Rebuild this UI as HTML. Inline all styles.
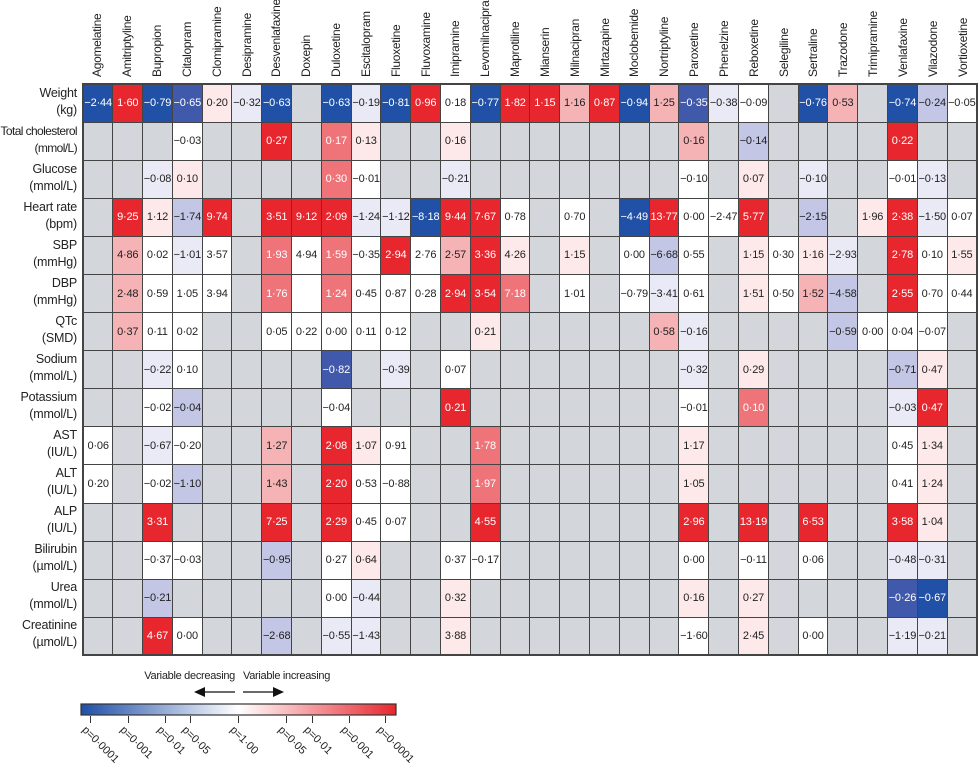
<!DOCTYPE html>
<html><head><meta charset="utf-8"><style>
body{margin:0;width:978px;height:759px;background:#fff;font-family:"Liberation Sans",sans-serif;position:relative;overflow:hidden;color:#222}
table{position:absolute;left:82px;top:83px;width:896px;border-collapse:collapse;table-layout:fixed;border:2px solid #444}
tr{height:38.1px}
td{border:1.5px solid #444;background:#d3d6da;text-align:center;font-size:11px;padding:0;white-space:nowrap;overflow:hidden;letter-spacing:-0.2px}
.w{background:#fff}.B{background:#2151a6;color:#fff}.m{background:#4059ab;color:#fff}.l{background:#c4c6e5}.v{background:#e9eaf6}
.p{background:#fde9e9}.q{background:#f6b3b5}.s{background:#ef7479;color:#fff}.R{background:#e8262e;color:#fff}
.lab{position:absolute;right:901px;text-align:right;font-size:12.5px;line-height:17px;width:90px;letter-spacing:-0.2px}
.col{position:absolute;top:77px;transform-origin:0 0;transform:rotate(-90deg);font-size:12px;letter-spacing:-0.3px;white-space:nowrap}
.tk{position:absolute;top:716px;width:1px;height:7px;background:#333}
.tl{position:absolute;top:724px;font-size:11px;transform-origin:0 0;transform:rotate(45deg);white-space:nowrap}
</style></head><body>
<div class="col" style="left:90px">Agomelatine</div><div class="col" style="left:120px">Amitriptyline</div><div class="col" style="left:150px">Bupropion</div><div class="col" style="left:180px">Citalopram</div><div class="col" style="left:210px">Clomipramine</div><div class="col" style="left:240px">Desipramine</div><div class="col" style="left:269px">Desvenlafaxine</div><div class="col" style="left:299px">Doxepin</div><div class="col" style="left:329px">Duloxetine</div><div class="col" style="left:359px">Escitalopram</div><div class="col" style="left:389px">Fluoxetine</div><div class="col" style="left:419px">Fluvoxamine</div><div class="col" style="left:448px">Imipramine</div><div class="col" style="left:478px">Levomilnacipran</div><div class="col" style="left:508px">Maprotiline</div><div class="col" style="left:538px">Mianserin</div><div class="col" style="left:568px">Milnacipran</div><div class="col" style="left:598px">Mirtazapine</div><div class="col" style="left:627px">Moclobemide</div><div class="col" style="left:657px">Nortriptyline</div><div class="col" style="left:687px">Paroxetine</div><div class="col" style="left:717px">Phenelzine</div><div class="col" style="left:747px">Reboxetine</div><div class="col" style="left:777px">Selegiline</div><div class="col" style="left:806px">Sertraline</div><div class="col" style="left:836px">Trazodone</div><div class="col" style="left:866px">Trimipramine</div><div class="col" style="left:896px">Venlafaxine</div><div class="col" style="left:926px">Vilazodone</div><div class="col" style="left:956px">Vortioxetine</div>

<div class="lab" style="top:85px">Weight<br>(kg)</div>
<div class="lab" style="top:123px;width:78px;letter-spacing:-0.6px;font-size:12px">Total cholesterol<br>(mmol/L)</div>
<div class="lab" style="top:161px">Glucose<br>(mmol/L)</div>
<div class="lab" style="top:199px">Heart rate<br>(bpm)</div>
<div class="lab" style="top:237px">SBP<br>(mmHg)</div>
<div class="lab" style="top:275px">DBP<br>(mmHg)</div>
<div class="lab" style="top:313px">QTc<br>(SMD)</div>
<div class="lab" style="top:351px">Sodium<br>(mmol/L)</div>
<div class="lab" style="top:389px">Potassium<br>(mmol/L)</div>
<div class="lab" style="top:427px">AST<br>(IU/L)</div>
<div class="lab" style="top:465px">ALT<br>(IU/L)</div>
<div class="lab" style="top:503px">ALP<br>(IU/L)</div>
<div class="lab" style="top:541px">Bilirubin<br>(µmol/L)</div>
<div class="lab" style="top:579px">Urea<br>(mmol/L)</div>
<div class="lab" style="top:617px">Creatinine<br>(µmol/L)</div>

<table>
<tr><td class=B>−2·44</td><td class=R>1·60</td><td class=B>−0·79</td><td class=m>−0·65</td><td class=p>0·20</td><td class=v>−0·32</td><td class=B>−0·63</td><td></td><td class=B>−0·63</td><td class=v>−0·19</td><td class=B>−0·81</td><td class=R>0·96</td><td class=w>0·18</td><td class=B>−0·77</td><td class=R>1·82</td><td class=R>1·15</td><td class=q>1·16</td><td class=R>0·87</td><td class=B>−0·94</td><td class=q>1·25</td><td class=m>−0·35</td><td class=v>−0·38</td><td class=w>−0·09</td><td></td><td class=B>−0·76</td><td class=q>0·53</td><td></td><td class=B>−0·74</td><td class=l>−0·24</td><td class=w>−0·05</td></tr>
<tr><td></td><td></td><td></td><td class=w>−0·03</td><td></td><td></td><td class=R>0·27</td><td></td><td class=s>0·17</td><td class=p>0·13</td><td></td><td></td><td class=p>0·16</td><td></td><td></td><td></td><td></td><td></td><td></td><td></td><td class=q>0·16</td><td></td><td class=l>−0·14</td><td></td><td></td><td></td><td></td><td class=R>0·22</td><td></td><td></td></tr>
<tr><td></td><td></td><td class=v>−0·08</td><td class=p>0·10</td><td></td><td></td><td></td><td></td><td class=s>0·30</td><td class=w>−0·01</td><td></td><td></td><td class=v>−0·21</td><td></td><td></td><td></td><td></td><td></td><td></td><td></td><td class=w>−0·10</td><td></td><td class=p>0·07</td><td></td><td class=v>−0·10</td><td></td><td></td><td class=w>−0·01</td><td class=v>−0·13</td><td></td></tr>
<tr><td></td><td class=R>9·25</td><td class=p>1·12</td><td class=l>−1·74</td><td class=R>9·74</td><td></td><td class=R>3·51</td><td class=R>9·12</td><td class=R>2·09</td><td class=v>−1·24</td><td class=v>−1·12</td><td class=B>−8·18</td><td class=R>9·44</td><td class=R>7·67</td><td class=w>0·78</td><td></td><td class=w>0·70</td><td></td><td class=B>−4·49</td><td class=R>13·77</td><td class=w>0·00</td><td class=w>−2·47</td><td class=R>5·77</td><td></td><td class=l>−2·15</td><td></td><td class=p>1·96</td><td class=R>2·38</td><td class=v>−1·50</td><td class=w>0·07</td></tr>
<tr><td></td><td class=q>4·86</td><td class=w>0·02</td><td class=v>−1·01</td><td class=w>3·57</td><td></td><td class=s>1·93</td><td class=w>4·94</td><td class=s>1·59</td><td class=w>−0·35</td><td class=R>2·94</td><td class=w>2·76</td><td class=q>2·57</td><td class=R>3·36</td><td class=p>4·26</td><td></td><td class=p>1·15</td><td></td><td class=w>0·00</td><td class=l>−6·68</td><td class=w>0·55</td><td></td><td class=p>1·15</td><td class=w>0·30</td><td class=p>1·16</td><td class=v>−2·93</td><td></td><td class=R>2·78</td><td class=w>0·10</td><td class=p>1·55</td></tr>
<tr><td></td><td class=q>2·48</td><td class=w>0·59</td><td class=w>1·05</td><td class=w>3·94</td><td></td><td class=s>1·76</td><td class=w></td><td class=s>1·24</td><td class=w>0·45</td><td class=w>0·87</td><td class=w>0·28</td><td class=R>2·94</td><td class=R>3·54</td><td class=s>7·18</td><td></td><td class=w>1·01</td><td></td><td class=w>−0·79</td><td class=v>−3·41</td><td class=w>0·61</td><td></td><td class=p>1·51</td><td class=w>0·50</td><td class=q>1·52</td><td class=l>−4·58</td><td></td><td class=R>2·55</td><td class=w>0·70</td><td class=w>0·44</td></tr>
<tr><td></td><td class=q>0·37</td><td class=w>0·11</td><td class=w>0·02</td><td></td><td></td><td class=w>0·05</td><td class=w>0·22</td><td class=w>0·00</td><td class=w>0·11</td><td class=w>0·12</td><td></td><td></td><td class=p>0·21</td><td></td><td></td><td></td><td></td><td></td><td class=q>0·58</td><td class=v>−0·16</td><td></td><td></td><td></td><td></td><td class=l>−0·59</td><td class=w>0·00</td><td class=w>0·04</td><td class=w>−0·07</td><td></td></tr>
<tr><td></td><td></td><td class=v>−0·22</td><td class=w>0·10</td><td></td><td></td><td></td><td></td><td class=m>−0·82</td><td></td><td class=v>−0·39</td><td></td><td class=w>0·07</td><td></td><td></td><td></td><td></td><td></td><td></td><td></td><td class=v>−0·32</td><td></td><td class=p>0·29</td><td></td><td></td><td></td><td></td><td class=l>−0·71</td><td class=p>0·47</td><td></td></tr>
<tr><td></td><td></td><td class=w>−0·02</td><td class=l>−0·04</td><td></td><td></td><td></td><td></td><td class=w>−0·04</td><td></td><td></td><td></td><td class=R>0·21</td><td></td><td></td><td></td><td></td><td></td><td></td><td></td><td class=w>−0·01</td><td></td><td class=s>0·10</td><td></td><td></td><td></td><td></td><td class=v>−0·03</td><td class=R>0·47</td><td></td></tr>
<tr><td class=w>0·06</td><td></td><td class=v>−0·67</td><td class=w>−0·20</td><td></td><td></td><td class=q>1·27</td><td></td><td class=R>2·08</td><td class=p>1·07</td><td class=w>0·91</td><td></td><td></td><td class=s>1·78</td><td></td><td></td><td></td><td></td><td></td><td></td><td class=p>1·17</td><td></td><td></td><td></td><td></td><td></td><td></td><td class=w>0·45</td><td class=p>1·34</td><td></td></tr>
<tr><td class=w>0·20</td><td></td><td class=w>−0·02</td><td class=l>−1·10</td><td></td><td></td><td class=q>1·43</td><td></td><td class=R>2·20</td><td class=w>0·53</td><td class=w>−0·88</td><td></td><td></td><td class=s>1·97</td><td></td><td></td><td></td><td></td><td></td><td></td><td class=p>1·05</td><td></td><td></td><td></td><td></td><td></td><td></td><td class=w>0·41</td><td class=p>1·24</td><td></td></tr>
<tr><td></td><td></td><td class=R>3·31</td><td></td><td></td><td></td><td class=R>7·25</td><td></td><td class=R>2·29</td><td class=w>0·45</td><td class=w>0·07</td><td></td><td></td><td class=R>4·55</td><td></td><td></td><td></td><td></td><td></td><td></td><td class=R>2·96</td><td></td><td class=R>13·19</td><td></td><td class=R>6·53</td><td></td><td></td><td class=R>3·58</td><td class=p>1·04</td><td></td></tr>
<tr><td></td><td></td><td class=w>−0·37</td><td class=w>−0·03</td><td></td><td></td><td class=l>−0·95</td><td></td><td class=w>0·27</td><td class=p>0·64</td><td></td><td></td><td class=w>0·37</td><td class=w>−0·17</td><td></td><td></td><td></td><td></td><td></td><td></td><td class=w>0·00</td><td></td><td class=w>−0·11</td><td></td><td class=w>0·06</td><td></td><td></td><td class=v>−0·48</td><td class=v>−0·31</td><td></td></tr>
<tr><td></td><td></td><td class=l>−0·21</td><td></td><td></td><td></td><td></td><td></td><td class=w>0·00</td><td class=v>−0·44</td><td></td><td></td><td class=p>0·32</td><td></td><td></td><td></td><td></td><td></td><td></td><td></td><td class=p>0·16</td><td></td><td class=p>0·27</td><td></td><td></td><td></td><td></td><td class=m>−0·26</td><td class=B>−0·67</td><td></td></tr>
<tr><td></td><td></td><td class=R>4·67</td><td class=w>0·00</td><td></td><td></td><td class=l>−2·68</td><td></td><td class=v>−0·55</td><td class=v>−1·43</td><td></td><td></td><td class=p>3·88</td><td></td><td></td><td></td><td></td><td></td><td></td><td></td><td class=w>−1·60</td><td></td><td class=p>2·45</td><td></td><td class=w>0·00</td><td></td><td></td><td class=v>−1·19</td><td class=v>−0·21</td><td></td></tr>
</table>

<div style="position:absolute;left:135px;width:100px;text-align:right;top:670px;font-size:11px;letter-spacing:-0.3px">Variable decreasing</div>
<div style="position:absolute;left:243px;top:670px;font-size:11px;letter-spacing:-0.3px">Variable increasing</div>
<svg style="position:absolute;left:0;top:0" width="978" height="759">
<line x1="196" y1="692" x2="235" y2="692" stroke="#111" stroke-width="1.3"/><polygon points="194,692 205,687 205,697" fill="#111"/>
<line x1="243" y1="692" x2="282" y2="692" stroke="#111" stroke-width="1.3"/><polygon points="284,692 273,687 273,697" fill="#111"/>
<defs><linearGradient id="g" x1="0" x2="1"><stop offset="0" stop-color="#1f4fa8"/><stop offset="0.5" stop-color="#fff"/><stop offset="1" stop-color="#e8262e"/></linearGradient></defs>
<rect x="81" y="704" width="315" height="11" fill="url(#g)" stroke="#333" stroke-width="1.2"/>
</svg>
<div class="tk" style="left:90px"></div><div class="tk" style="left:128px"></div><div class="tk" style="left:165px"></div><div class="tk" style="left:190px"></div><div class="tk" style="left:238px"></div><div class="tk" style="left:286px"></div><div class="tk" style="left:312px"></div><div class="tk" style="left:349px"></div><div class="tk" style="left:385px"></div>
<div class="tl" style="left:88px">p=0·0001</div><div class="tl" style="left:126px">p=0·001</div><div class="tl" style="left:163px">p=0·01</div><div class="tl" style="left:188px">p=0·05</div><div class="tl" style="left:236px">p=1·00</div><div class="tl" style="left:284px">p=0·05</div><div class="tl" style="left:310px">p=0·01</div><div class="tl" style="left:347px">p=0·001</div><div class="tl" style="left:383px">p=0·0001</div>
</body></html>
